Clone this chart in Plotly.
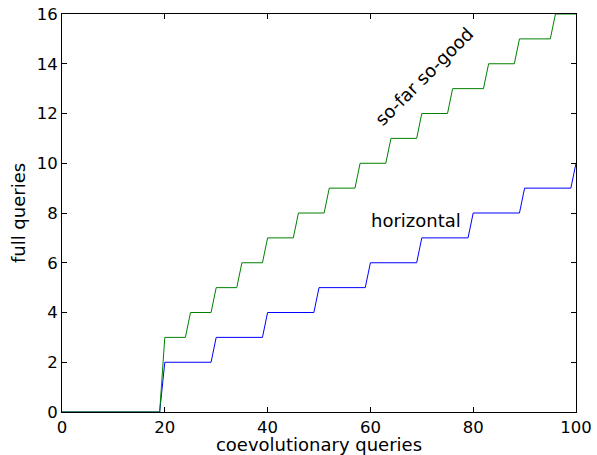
import plotly.graph_objects as go

# x: coevolutionary queries (0..100)
x_vals = list(range(101))

# full queries (value at each integer x)
horizontal_y = ([0] * 20 + [2] * 10 + [3] * 10 + [4] * 10 + [5] * 10 +
                [6] * 10 + [7] * 10 + [8] * 10 + [9] * 10 + [10] * 1)
sofar_y = ([0] * 20 + [3] * 5 + [4] * 5 + [5] * 5 + [6] * 5 + [7] * 6 +
           [8] * 6 + [9] * 6 + [10] * 6 + [11] * 6 + [12] * 6 + [13] * 7 +
           [14] * 6 + [15] * 7 + [16] * 5)

x_ticks = [0, 20, 40, 60, 80, 100]
y_ticks = [0, 2, 4, 6, 8, 10, 12, 14, 16]

FONT = "DejaVu Sans"

fig = go.Figure()
fig.add_trace(go.Scatter(x=x_vals, y=horizontal_y, mode="lines",
                         line=dict(color="#0000ff", width=1), name="horizontal"))
fig.add_trace(go.Scatter(x=x_vals, y=sofar_y, mode="lines",
                         line=dict(color="#008000", width=1), name="so-far so-good"))

axis_common = dict(showgrid=False, zeroline=False, showline=True, linecolor="black",
                   linewidth=1, mirror="ticks", ticks="inside", ticklen=5,
                   tickcolor="black", tickwidth=1,
                   tickfont=dict(family=FONT, size=16.5, color="black"))

fig.update_xaxes(range=[0, 100], tickvals=x_ticks, ticktext=[str(v) for v in x_ticks],
                 title=dict(text="coevolutionary queries", standoff=2,
                            font=dict(family=FONT, size=18, color="black")),
                 **axis_common)
fig.update_yaxes(range=[0, 16], tickvals=y_ticks, ticktext=[str(v) for v in y_ticks],
                 title=dict(text="full queries", standoff=6,
                            font=dict(family=FONT, size=18, color="black")),
                 **axis_common)

fig.add_annotation(x=59.8, y=7.70, text="horizontal", showarrow=False,
                   xanchor="left", yanchor="middle",
                   font=dict(family=FONT, size=18, color="black"))
fig.add_annotation(x=70.4, y=13.5, text="so-far so-good", showarrow=False,
                   xanchor="center", yanchor="middle", textangle=-45,
                   font=dict(family=FONT, size=18, color="black"))

fig.update_layout(width=597, height=455, showlegend=False,
                  margin=dict(l=62, r=21, t=14, b=43, autoexpand=False),
                  paper_bgcolor="white", plot_bgcolor="white",
                  font=dict(family=FONT, color="black"))

fig.write_html("out.html")
